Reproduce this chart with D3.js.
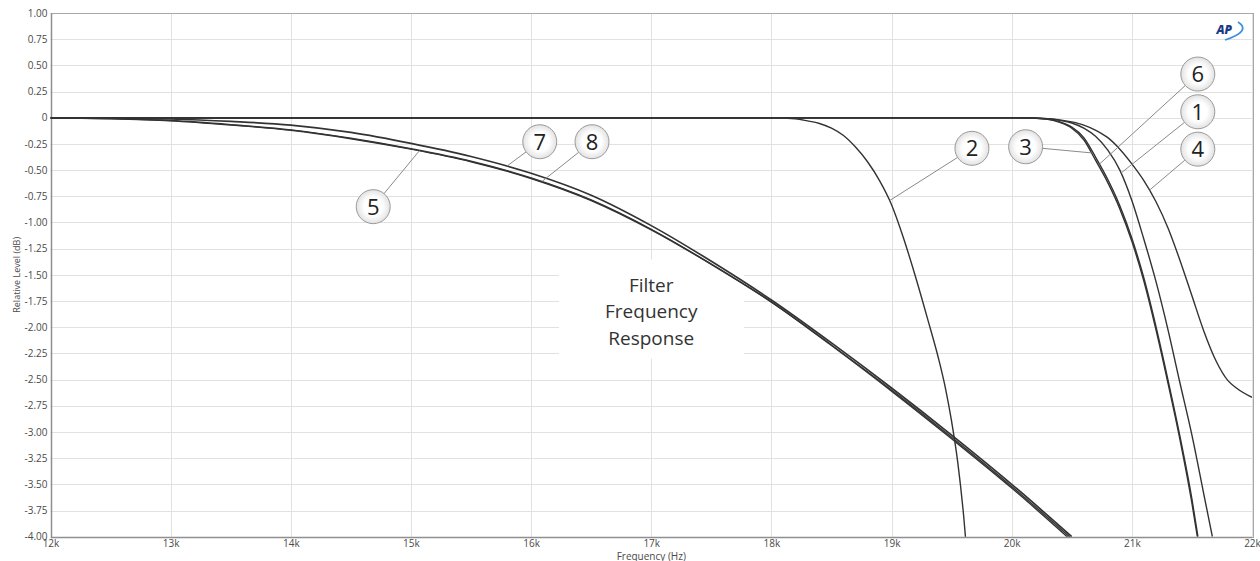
<!DOCTYPE html>
<html>
<head>
<meta charset="utf-8">
<title>Filter Frequency Response</title>
<script src="https://cdn.jsdelivr.net/npm/d3@7"></script>
<style>
  body { margin: 0; background: #fff; }
  svg { display: block; }
</style>
</head>
<body>
<svg id="chart" width="1260" height="561"></svg>
<script>
// axis ticks
const xTicks = [12000, 13000, 14000, 15000, 16000, 17000, 18000, 19000, 20000, 21000, 22000];
const yTicks = [1, 0.75, 0.5, 0.25, 0, -0.25, -0.5, -0.75, -1, -1.25, -1.5, -1.75, -2, -2.25, -2.5, -2.75, -3, -3.25, -3.5, -3.75, -4];

// measured curves, [frequency Hz, relative level dB]
const curve1 = [[12000,0],[20000,0],[20300,-0.01],[20400,-0.025],[20500,-0.05],[20600,-0.1],[20700,-0.18],[20800,-0.31],[20900,-0.5],[21000,-0.79],[21100,-1.16],[21200,-1.56],[21300,-2.02],[21400,-2.53],[21500,-3.03],[21600,-3.6],[21670,-4.0]];
const curve2 = [[12000,0],[18000,0],[18200,-0.01],[18300,-0.03],[18400,-0.055],[18500,-0.1],[18600,-0.17],[18700,-0.28],[18800,-0.42],[18900,-0.6],[19000,-0.83],[19100,-1.15],[19200,-1.52],[19300,-1.92],[19400,-2.34],[19450,-2.59],[19500,-2.9],[19550,-3.28],[19600,-3.8],[19630,-4.2]];
const curve3 = [[12000,0],[20000,0],[20200,-0.005],[20300,-0.015],[20400,-0.045],[20500,-0.1],[20600,-0.21],[20700,-0.41],[20800,-0.62],[20900,-0.87],[21000,-1.18],[21100,-1.56],[21200,-2.02],[21300,-2.53],[21400,-3.07],[21500,-3.68],[21545,-4.0]];
const curve4 = [[12000,0],[20000,0],[20300,-0.01],[20400,-0.02],[20500,-0.04],[20600,-0.07],[20700,-0.12],[20800,-0.19],[20900,-0.3],[21000,-0.44],[21100,-0.6],[21200,-0.8],[21300,-1.05],[21400,-1.36],[21500,-1.7],[21600,-2.04],[21700,-2.32],[21800,-2.51],[21870,-2.58],[22000,-2.67]];
const curve5 = [[12000,0],[12500,-0.01],[13000,-0.03],[13500,-0.07],[14000,-0.12],[14500,-0.2],[15000,-0.3],[15500,-0.42],[16000,-0.58],[16500,-0.79],[17000,-1.07],[17500,-1.4],[18000,-1.76],[18500,-2.17],[19000,-2.6],[19500,-3.05],[20000,-3.52],[20500,-4.02]];
const curve6 = [[12000,0],[20000,0],[20200,-0.004],[20300,-0.012],[20400,-0.04],[20500,-0.09],[20600,-0.19],[20700,-0.38],[20800,-0.59],[20900,-0.84],[21000,-1.15],[21100,-1.53],[21200,-1.99],[21300,-2.5],[21400,-3.04],[21500,-3.64],[21550,-4.0]];
const curve7 = [[12000,0],[12500,-0.003],[13000,-0.012],[13500,-0.035],[14000,-0.07],[14500,-0.14],[15000,-0.245],[15500,-0.37],[16000,-0.53],[16500,-0.74],[17000,-1.03],[17500,-1.37],[18000,-1.74],[18500,-2.15],[19000,-2.58],[19500,-3.03],[20000,-3.5],[20500,-4.0]];
const curve8 = [[12000,0],[12500,-0.008],[13000,-0.027],[13500,-0.066],[14000,-0.116],[14500,-0.196],[15000,-0.296],[15500,-0.415],[16000,-0.575],[16500,-0.785],[17000,-1.065],[17500,-1.397],[18000,-1.758],[18500,-2.175],[19000,-2.61],[19500,-3.065],[20000,-3.535],[20500,-4.04]];

// numbered callouts: label position and the frequency where the leader meets its curve
const labelIds = ["6", "1", "4", "3", "2", "7", "8", "5"];
const labelFreq = [21549, 21549, 21549, 20116, 19669, 16072, 16507, 14686];
const labelLevel = [0.417, 0.057, -0.30, -0.277, -0.292, -0.229, -0.229, -0.849];
const anchorFreq = [20731, 20911, 21148, 20665, 18985, 15800, 16090, 15070];

const titleLines = ["Filter", "Frequency", "Response"];

const series = [
  {id: "1", pts: curve1}, {id: "2", pts: curve2}, {id: "3", pts: curve3}, {id: "4", pts: curve4},
  {id: "5", pts: curve5}, {id: "6", pts: curve6}, {id: "7", pts: curve7}, {id: "8", pts: curve8}
];

const plot = {left: 50.5, right: 1252, top: 13, bottom: 536.7};
const font = "'Open Sans', 'Noto Sans', sans-serif";

const x = d3.scaleLinear().domain([12000, 22000]).range([plot.left, plot.right]);
const y = d3.scaleLinear().domain([-4, 1]).range([plot.bottom, plot.top]);

const svg = d3.select("#chart");
const defs = svg.append("defs");

defs.append("clipPath").attr("id", "plotclip")
  .append("rect")
  .attr("x", plot.left).attr("y", plot.top)
  .attr("width", plot.right - plot.left).attr("height", plot.bottom - plot.top);

const grad = defs.append("radialGradient").attr("id", "bubble");
grad.append("stop").attr("offset", "55%").attr("stop-color", "#ffffff");
grad.append("stop").attr("offset", "100%").attr("stop-color", "#e2e2e2");

const crisp = v => Math.round(v) + 0.5;

//Grid
const grid = svg.append("g").attr("stroke", "#e1e1e1").attr("stroke-width", 1);
grid.selectAll(".vx").data(xTicks).join("line")
  .attr("x1", d => crisp(x(d))).attr("x2", d => crisp(x(d)))
  .attr("y1", plot.top).attr("y2", plot.bottom);
grid.selectAll(".hy").data(yTicks).join("line")
  .attr("x1", plot.left).attr("x2", plot.right)
  .attr("y1", d => crisp(y(d))).attr("y2", d => crisp(y(d)));

//Text block in the middle, sitting on a white patch
const title = svg.append("g").attr("font-family", font).attr("font-size", 19)
  .attr("fill", "#333").attr("text-anchor", "middle");
title.selectAll("text").data(titleLines).join("text")
  .attr("x", x(17000))
  .attr("y", (d, i) => y(-1.66) + i * 26.5)
  .text(d => d);
const tb = title.node().getBBox();
svg.insert("rect", "g:last-child")
  .attr("x", tb.x - 46).attr("y", tb.y - 12)
  .attr("width", tb.width + 92).attr("height", tb.height + 20)
  .attr("fill", "#fff");

//Frame
svg.append("rect")
  .attr("x", crisp(plot.left)).attr("y", crisp(plot.top))
  .attr("width", Math.round(plot.right - plot.left)).attr("height", Math.round(plot.bottom - plot.top))
  .attr("fill", "none").attr("stroke", "#a8a8a8");
svg.append("path")
  .attr("d", `M${crisp(plot.left)},${plot.top}V${crisp(plot.bottom)}H${plot.right}`)
  .attr("fill", "none").attr("stroke", "#8f8f8f").attr("stroke-width", 1.5);

//Axes
svg.append("g")
  .attr("transform", "translate(" + plot.left + ",0)")
  .call(d3.axisLeft(y).tickValues(yTicks).tickSize(0).tickPadding(3)
    .tickFormat(d => d === 0 ? "0" : d.toFixed(2)))
  .call(g => g.select(".domain").remove())
  .attr("font-family", font).attr("font-size", 10)
  .selectAll("text").attr("fill", "#4a4a4a");

svg.append("g")
  .attr("transform", "translate(0," + plot.bottom + ")")
  .call(d3.axisBottom(x).tickValues(xTicks).tickSize(0).tickPadding(3)
    .tickFormat(d => (d / 1000) + "k"))
  .call(g => g.select(".domain").remove())
  .attr("font-family", font).attr("font-size", 10)
  .selectAll("text").attr("fill", "#4a4a4a");

svg.append("text")
  .attr("x", x(17000)).attr("y", 559.5)
  .attr("text-anchor", "middle")
  .attr("font-family", font).attr("font-size", 10).attr("fill", "#4a4a4a")
  .text("Frequency (Hz)");

svg.append("text")
  .attr("transform", "translate(20," + ((plot.top + plot.bottom) / 2) + ") rotate(-90)")
  .attr("text-anchor", "middle")
  .attr("font-family", font).attr("font-size", 9).attr("fill", "#4a4a4a")
  .text("Relative Level (dB)");

//Curves
const line = d3.line()
  .x(d => x(d[0]))
  .y(d => y(d[1]))
  .curve(d3.curveMonotoneX);

const curves = svg.append("g").attr("clip-path", "url(#plotclip)");
const paths = {};
series.forEach(function(s) {
  paths[s.id] = curves.append("path")
    .datum(s.pts)
    .attr("d", line)
    .attr("fill", "none")
    .attr("stroke", "#333")
    .attr("stroke-width", s.id === "7" ? 1.7 : 1.4)
    .node();
});

// find the point of a drawn curve at a given screen x
function pointAtX(path, px) {
  var lo = 0, hi = path.getTotalLength();
  for (var i = 0; i < 40; i++) {
    var mid = (lo + hi) / 2;
    if (path.getPointAtLength(mid).x < px) lo = mid; else hi = mid;
  }
  return path.getPointAtLength(lo);
}

//Callouts
const r = 17;
const callouts = svg.append("g");
labelIds.forEach(function(id, i) {
  var cx = x(labelFreq[i]), cy = y(labelLevel[i]);
  var p = pointAtX(paths[id], x(anchorFreq[i]));
  var dx = p.x - cx, dy = p.y - cy, len = Math.sqrt(dx * dx + dy * dy);
  callouts.append("line")
    .attr("x1", cx + dx / len * r).attr("y1", cy + dy / len * r)
    .attr("x2", p.x).attr("y2", p.y)
    .attr("stroke", "#8a8a8a").attr("stroke-width", 1);
  callouts.append("circle")
    .attr("cx", cx).attr("cy", cy).attr("r", r)
    .attr("fill", "url(#bubble)")
    .attr("stroke", "#9a9a9a").attr("stroke-width", 1);
  callouts.append("text")
    .attr("x", cx).attr("y", cy)
    .attr("dy", "0.36em")
    .attr("text-anchor", "middle")
    .attr("font-family", font).attr("font-size", 22).attr("fill", "#222")
    .text(id);
});

//AP mark
const logo = svg.append("g").attr("transform", "translate(" + (plot.right - 20) + "," + (plot.top + 21) + ")");
logo.append("path")
  .attr("d", "M6,-12 Q20,-3 -7,6")
  .attr("fill", "none").attr("stroke", "#3f8fdc").attr("stroke-width", 1.8);
logo.append("text")
  .attr("text-anchor", "end")
  .attr("font-family", font).attr("font-size", 12)
  .attr("font-weight", 800).attr("font-style", "italic")
  .attr("fill", "#1c3a85")
  .text("AP");
</script>
</body>
</html>
